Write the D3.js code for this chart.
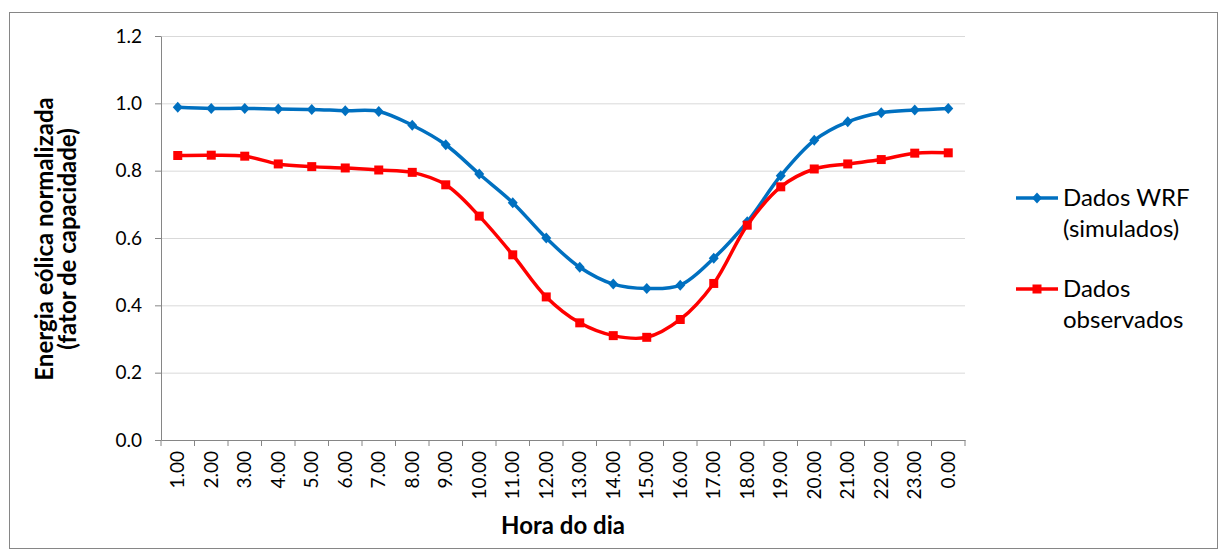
<!DOCTYPE html>
<html>
<head>
<meta charset="utf-8">
<script src="https://cdn.jsdelivr.net/npm/d3@7"></script>
<style>
  body { margin: 0; background: #fff; }
  svg { font-family: Lato, "Open Sans", sans-serif; }
  .grid line { stroke: #d9d9d9; }
  .grid path { display: none; }
  .axis path, .axis line { stroke: #868686; }
  .axis text { fill: #000; font-size: 19px; font-family: Lato, sans-serif; }
</style>
</head>
<body>
<svg width="1224" height="552"></svg>
<script>
var hours = ['1.00','2.00','3.00','4.00','5.00','6.00','7.00','8.00','9.00','10.00','11.00','12.00',
             '13.00','14.00','15.00','16.00','17.00','18.00','19.00','20.00','21.00','22.00','23.00','0.00'];
var wrf = [0.988,0.985,0.985,0.983,0.982,0.978,0.976,0.935,0.877,0.790,0.705,0.600,
           0.513,0.463,0.450,0.460,0.540,0.648,0.785,0.890,0.945,0.972,0.980,0.985];
var observed = [0.845,0.846,0.843,0.820,0.812,0.808,0.802,0.795,0.758,0.665,0.550,0.425,
                0.348,0.310,0.305,0.358,0.465,0.638,0.752,0.805,0.820,0.833,0.852,0.853];
var yTicks = [0, 0.2, 0.4, 0.6, 0.8, 1.0, 1.2];

var svg = d3.select('svg');

// outer frame
svg.append('rect').attr('x', 9.5).attr('y', 12.5).attr('width', 1208).attr('height', 536)
  .attr('fill', '#fff').attr('stroke', '#868686');

var margin = {top: 36, left: 161};
var width = 804, height = 404;
var g = svg.append('g').attr('transform', 'translate(' + margin.left + ',' + margin.top + ')');

var x = d3.scaleBand().domain(hours).range([0, width]);
var y = d3.scaleLinear().domain([0, 1.2]).range([height, 0]);

g.append('g').attr('class', 'grid')
  .call(d3.axisLeft(y).tickValues(yTicks.slice(1)).tickSize(-width).tickFormat(''));

var yAxis = g.append('g').attr('class', 'axis')
  .call(d3.axisLeft(y).tickValues(yTicks).tickSize(6).tickSizeOuter(0).tickPadding(13)
    .tickFormat(d3.format('.1f')));

var xAxis = g.append('g').attr('class', 'axis').attr('transform', 'translate(0,' + height + ')')
  .call(d3.axisBottom(x).tickSize(0).tickSizeOuter(0));
xAxis.selectAll('text')
  .attr('transform', 'rotate(-90)')
  .attr('x', -11).attr('y', 0).attr('dy', '0.35em')
  .style('text-anchor', 'end');
// ticks between categories
xAxis.selectAll('.sep').data(d3.range(hours.length + 1)).enter().append('line')
  .attr('class', 'sep')
  .attr('x1', function(i) { return i * x.step(); })
  .attr('x2', function(i) { return i * x.step(); })
  .attr('y1', 0).attr('y2', 6);

var line = d3.line()
  .x(function(d, i) { return x(hours[i]) + x.bandwidth() / 2; })
  .y(function(d) { return y(d); })
  .curve(d3.curveCatmullRom.alpha(0.5));

function addSeries(values, color, marker) {
  g.append('path').datum(values)
    .attr('fill', 'none').attr('stroke', color).attr('stroke-width', 3.5)
    .attr('stroke-linejoin', 'round').attr('d', line);
  g.selectAll(null).data(values).enter().append('path')
    .attr('transform', function(d, i) {
      return 'translate(' + (x(hours[i]) + x.bandwidth() / 2) + ',' + y(d) + ')';
    })
    .attr('fill', color)
    .attr('d', marker);
}
var diamond = 'M0,-5.5L5,0L0,5.5L-5,0Z';
var square = 'M-4.5,-4.5H4.5V4.5H-4.5Z';
addSeries(wrf, '#0070c0', diamond);
addSeries(observed, '#ff0000', square);

// axis titles
svg.append('text').attr('x', 563).attr('y', 534).attr('text-anchor', 'middle')
  .style('font-weight', 'bold').style('font-size', '24px').text('Hora do dia');
var yt = svg.append('text').attr('transform', 'translate(0,239) rotate(-90)')
  .attr('text-anchor', 'middle').style('font-weight', 'bold').style('font-size', '24px');
yt.append('tspan').attr('x', 0).attr('y', 53).text('Energia eólica normalizada');
yt.append('tspan').attr('x', 0).attr('y', 76).text('(fator de capacidade)');

// legend
var legend = [
  {color: '#0070c0', marker: diamond, lines: ['Dados WRF', '(simulados)'], y: 198},
  {color: '#ff0000', marker: square, lines: ['Dados', 'observados'], y: 289}
];
legend.forEach(function(l) {
  svg.append('line').attr('x1', 1016).attr('x2', 1058).attr('y1', l.y).attr('y2', l.y)
    .attr('stroke', l.color).attr('stroke-width', 3.5);
  svg.append('path').attr('transform', 'translate(1037,' + l.y + ')')
    .attr('fill', l.color).attr('d', l.marker);
  l.lines.forEach(function(t, k) {
    svg.append('text').attr('x', 1063).attr('y', l.y + 8 + k * 31)
      .style('font-size', '24px').text(t);
  });
});
</script>
</body>
</html>
